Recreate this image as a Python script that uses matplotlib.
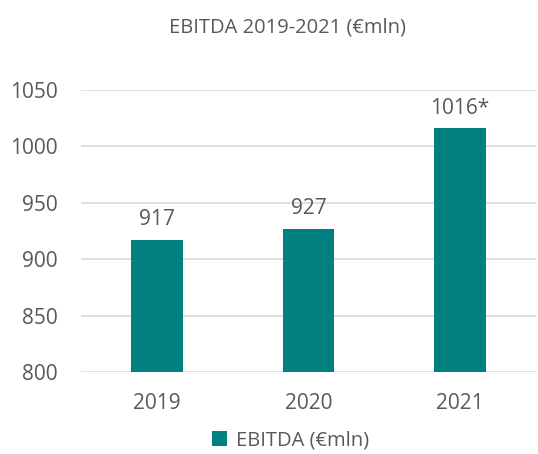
import matplotlib.pyplot as plt

plt.rcParams['font.family'] = ['Open Sans', 'DejaVu Sans']

years = ['2019', '2020', '2021']
ebitda = [917, 927, 1016]
value_labels = ['917', '927', '1016*']

grey = '#595959'
teal = '#008080'

fig = plt.figure(figsize=(5.38, 4.54), dpi=100)
ax = fig.add_axes([0.151, 0.1806, 0.845, 0.6212])

bars = ax.bar(years, ebitda, width=0.34, color=teal, zorder=3, label='EBITDA (€mln)')
for b, lab in zip(bars, value_labels):
    ax.annotate(lab, (b.get_x() + b.get_width() / 2, b.get_height()),
                xytext=(0, 7), textcoords='offset points',
                ha='center', va='bottom', fontsize=15, color=grey)

ax.set_ylim(800, 1050)
ax.set_yticks(range(800, 1051, 50))
ax.set_xlim(-0.5, 2.5)
ax.grid(axis='y', color='#d9d9d9', linewidth=1.2, zorder=0)
for s in ax.spines.values():
    s.set_visible(False)
ax.tick_params(axis='both', length=0, labelsize=15, labelcolor=grey)
ax.tick_params(axis='y', pad=17)
ax.tick_params(axis='x', pad=15)

fig.text(0.535, 0.94, 'EBITDA 2019-2021 (€mln)', ha='center', va='center',
         fontsize=14.5, color=grey)

fig.legend(loc='center', bbox_to_anchor=(0.54, 0.03), frameon=False,
           fontsize=14.5, labelcolor=grey, handlelength=0.75, handleheight=0.75,
           handletextpad=0.4)

fig.savefig('out.png', dpi=100)
